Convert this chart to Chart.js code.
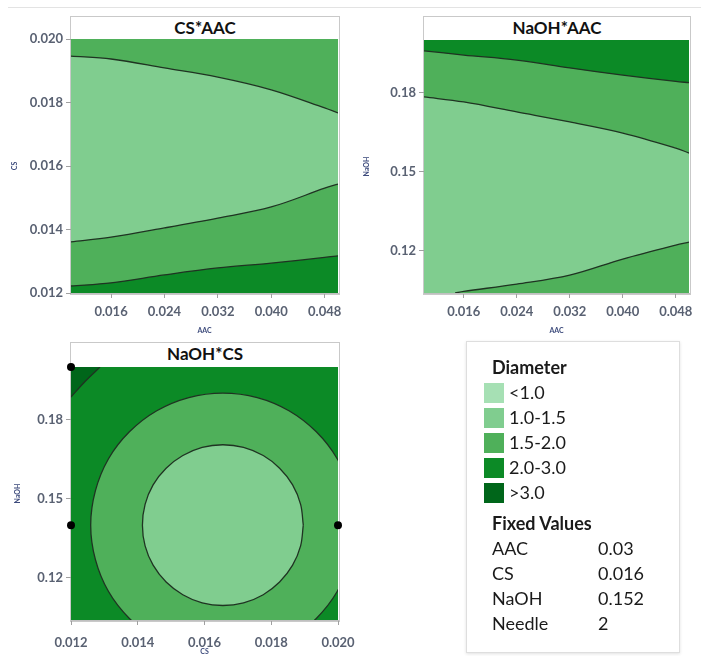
<!DOCTYPE html>
<html>
<head>
<meta charset="utf-8">
<script src="https://cdn.jsdelivr.net/npm/chart.js@4.4.1/dist/chart.umd.min.js"></script>
<style>
  body { margin: 0; background: #fff; width: 701px; height: 656px; position: relative; overflow: hidden; font-family: Lato, sans-serif; }
  .topline { position: absolute; left: 8px; top: 7px; width: 693px; height: 1px; background: #e3e3e3; }
  .frame { position: absolute; border: 1px solid #c9c9c9; background: #fff; box-sizing: border-box; }
  .frame .ttl { height: 22px; line-height: 22px; text-align: center; font-weight: bold; font-size: 17px; color: #111; }
  canvas { position: absolute; }
  .legend { position: absolute; left: 466px; top: 341px; width: 214px; height: 312px; box-sizing: border-box;
            border: 1px solid #dedede; box-shadow: 0 1px 3px rgba(0,0,0,0.12); padding-top: 13px; color: #1a1a1a; font-size: 18px; }
  .legend .hd { padding-left: 25px; font-weight: bold; line-height: 25px; height: 25px; }
  .legend .row { padding-left: 17px; line-height: 25px; height: 25px; display: flex; align-items: center; }
  .legend .sw { width: 20px; height: 20px; margin-right: 5px; }
  .legend .fv { padding-left: 25px; line-height: 25px; height: 25px; display: flex; }
  .legend .fv span:first-child { width: 106px; }
</style>
</head>
<body>
<div class="topline"></div>
<div class="frame" style="left:70px; top:16px; width:270px; height:279px"><div class="ttl">CS*AAC</div></div>
<div class="frame" style="left:423px; top:16px; width:268px; height:279px"><div class="ttl">NaOH*AAC</div></div>
<div class="frame" style="left:70px; top:342px; width:270px; height:280px"><div class="ttl">NaOH*CS</div></div>
<canvas id="c1" width="350" height="340" style="left:0; top:0"></canvas>
<canvas id="c2" width="348" height="340" style="left:353px; top:0"></canvas>
<canvas id="c3" width="366" height="326" style="left:0; top:330px"></canvas>
<div class="legend" id="legend"></div>

<script>
// colours for each Diameter band
const BAND_LABELS = ["<1.0", "1.0-1.5", "1.5-2.0", "2.0-3.0", ">3.0"];
const BAND_COLORS = ["#a6e0b4", "#80cd8f", "#4fb05a", "#0c8a26", "#00661a"];
const FIXED_NAMES = ["AAC", "CS", "NaOH", "Needle"];
const FIXED_VALUES = ["0.03", "0.016", "0.152", "2"];

// tick labels
const AAC_TICKS = [0.016, 0.024, 0.032, 0.040, 0.048];
const CS_TICKS = [0.012, 0.014, 0.016, 0.018, 0.020];
const NAOH_TICKS = [0.12, 0.15, 0.18];

// CS*AAC contour lines, [AAC, CS]
const csAacUpper = [[0.010, 0.01946], [0.016, 0.01937], [0.024, 0.01909], [0.032, 0.0188], [0.040, 0.0184], [0.048, 0.01783], [0.050, 0.01767]];
const csAacMiddle = [[0.010, 0.01361], [0.016, 0.01376], [0.024, 0.01405], [0.032, 0.01436], [0.040, 0.01471], [0.048, 0.0153], [0.050, 0.01543]];
const csAacLower = [[0.010, 0.01222], [0.016, 0.01232], [0.024, 0.01257], [0.032, 0.01279], [0.040, 0.01294], [0.048, 0.01312], [0.050, 0.01317]];

// NaOH*AAC contour lines, [AAC, NaOH]
const naohAacUpper = [[0.010, 0.1959], [0.016, 0.1943], [0.024, 0.1924], [0.032, 0.1894], [0.040, 0.1867], [0.048, 0.1843], [0.050, 0.1838]];
const naohAacMiddle = [[0.010, 0.1784], [0.016, 0.1765], [0.024, 0.1727], [0.032, 0.1689], [0.040, 0.1647], [0.048, 0.159], [0.050, 0.1571]];
const naohAacLower = [[0.0147, 0.104], [0.016, 0.1046], [0.024, 0.1074], [0.032, 0.1108], [0.040, 0.1169], [0.048, 0.1222], [0.050, 0.1233]];

// NaOH*CS contour lines, [CS, NaOH]
const naohCsInner = [
  [0.01896, 0.1400], [0.01888, 0.1479], [0.01864, 0.1553], [0.01825, 0.1616], [0.01776, 0.1664], [0.01717, 0.1695],
  [0.01655, 0.1705], [0.01593, 0.1695], [0.01535, 0.1664], [0.01485, 0.1616], [0.01446, 0.1553], [0.01422, 0.1479],
  [0.01414, 0.1400], [0.01422, 0.1321], [0.01446, 0.1248], [0.01485, 0.1184], [0.01535, 0.1136], [0.01593, 0.1105],
  [0.01655, 0.1095], [0.01717, 0.1105], [0.01776, 0.1136], [0.01825, 0.1184], [0.01864, 0.1248], [0.01888, 0.1321],
  [0.01896, 0.1400]
];
const naohCsOuter = [
  [0.02051, 0.1400], [0.02038, 0.1530], [0.01998, 0.1651], [0.01935, 0.1754], [0.01853, 0.1834], [0.01758, 0.1884],
  [0.01655, 0.1901], [0.01553, 0.1884], [0.01457, 0.1834], [0.01375, 0.1754], [0.01312, 0.1651], [0.01273, 0.1530],
  [0.01259, 0.1400], [0.01273, 0.1270], [0.01312, 0.1149], [0.01375, 0.1046], [0.01457, 0.0966], [0.01553, 0.0916],
  [0.01655, 0.0899], [0.01758, 0.0916], [0.01853, 0.0966], [0.01935, 0.1046], [0.01998, 0.1149], [0.02038, 0.1270],
  [0.02051, 0.1400]
];
const naohCsCorner = [[0.012, 0.1886], [0.01242, 0.1945], [0.01287, 0.2000]];
const naohCsDots = [[0.012, 0.2], [0.012, 0.14], [0.020, 0.14]];

Chart.defaults.font.family = "Lato, sans-serif";

const LINE = "#1f3322";
const TICK_FONT = { size: 13, weight: "bold" };
const TICK_COLOR = "#596172";

const areaFill = {
  id: "areaFill",
  beforeDatasetsDraw(chart, args, opts) {
    const a = chart.chartArea;
    const ctx = chart.ctx;
    ctx.save();
    ctx.fillStyle = opts.color;
    ctx.fillRect(a.left, a.top, a.right - a.left, a.bottom - a.top);
    ctx.restore();
  }
};

const pts = (arr) => arr.map(([x, y]) => ({ x, y }));

function contour(arr, fill, color) {
  return {
    data: pts(arr),
    borderColor: LINE,
    borderWidth: 1.3,
    backgroundColor: color,
    fill: fill,
    pointRadius: 0,
    tension: 0.35
  };
}

function axis(ticks, min, max, digits, title, tickPad, titlePad, size, isX) {
  return {
    type: "linear",
    min: min,
    max: max,
    afterBuildTicks: (s) => { s.ticks = ticks.map((v) => ({ value: v })); },
    afterFit: (s) => {
      if (isX) s.height = size; else s.width = size;
      // keep edge labels from squeezing the plot area
      s.paddingLeft = s.paddingRight = s.paddingTop = s.paddingBottom = 0;
    },
    ticks: {
      callback: (v) => v.toFixed(digits),
      font: TICK_FONT,
      color: TICK_COLOR,
      padding: tickPad,
      autoSkip: false,
      maxRotation: 0
    },
    grid: { drawOnChartArea: false, tickLength: 5, color: "#a0a0a0" },
    border: { display: true, color: "#c0c0c0" },
    title: {
      display: true,
      text: title,
      font: { size: 7, weight: "bold" },
      color: "#3d4b7c",
      padding: titlePad
    }
  };
}

function makeChart(id, datasets, bg, padTop, padRight, xAxis, yAxis) {
  return new Chart(document.getElementById(id), {
    type: "line",
    data: { datasets: datasets },
    options: {
      responsive: false,
      animation: false,
      events: [],
      layout: { padding: { top: padTop, right: padRight, bottom: 0, left: 0 } },
      elements: { line: { capBezierPoints: false } },
      plugins: { legend: { display: false }, tooltip: { enabled: false }, areaFill: { color: bg } },
      scales: { x: xAxis, y: yAxis }
    },
    plugins: [areaFill]
  });
}

// CS*AAC
makeChart("c1", [
  contour(csAacLower, "start", BAND_COLORS[3]),
  contour(csAacMiddle, "start", BAND_COLORS[2]),
  contour(csAacUpper, "start", BAND_COLORS[1])
], BAND_COLORS[2], 39, 12,
  axis(AAC_TICKS, 0.01, 0.05, 3, "AAC", 6, { top: 0, bottom: 5 }, 47, true),
  axis(CS_TICKS, 0.012, 0.020, 3, "CS", 3, { top: 11, bottom: 0 }, 71, false));

// NaOH*AAC
makeChart("c2", [
  contour(naohAacLower, "start", BAND_COLORS[2]),
  contour(naohAacMiddle, "start", BAND_COLORS[1]),
  contour(naohAacUpper, "start", BAND_COLORS[2])
], BAND_COLORS[3], 40, 12,
  axis(AAC_TICKS, 0.01, 0.05, 3, "AAC", 6, { top: 0, bottom: 5 }, 47, true),
  axis(NAOH_TICKS, 0.104, 0.2, 2, "NaOH", 3, { top: 10, bottom: 0 }, 71, false));

// NaOH*CS
makeChart("c3", [
  { data: pts(naohCsDots), showLine: false, pointRadius: 4, pointBackgroundColor: "#000", pointBorderWidth: 0, clip: false },
  contour(naohCsInner, "shape", BAND_COLORS[1]),
  contour(naohCsOuter, "shape", BAND_COLORS[2]),
  contour(naohCsCorner, "end", BAND_COLORS[4])
], BAND_COLORS[3], 37, 28,
  axis(CS_TICKS, 0.012, 0.020, 3, "CS", 10, { top: 0, bottom: 0 }, 36, true),
  axis(NAOH_TICKS, 0.104, 0.2, 2, "NaOH", 3, { top: 14, bottom: 0 }, 71, false));

// legend box
const legend = document.getElementById("legend");
let html = '<div class="hd">Diameter</div>';
BAND_LABELS.forEach((label, i) => {
  html += `<div class="row"><span class="sw" style="background:${BAND_COLORS[i]}"></span>${label.replace("<", "&lt;").replace(">", "&gt;")}</div>`;
});
html += '<div class="hd" style="margin-top:6px">Fixed Values</div>';
FIXED_NAMES.forEach((name, i) => {
  html += `<div class="fv"><span>${name}</span><span>${FIXED_VALUES[i]}</span></div>`;
});
legend.innerHTML = html;
</script>
</body>
</html>
